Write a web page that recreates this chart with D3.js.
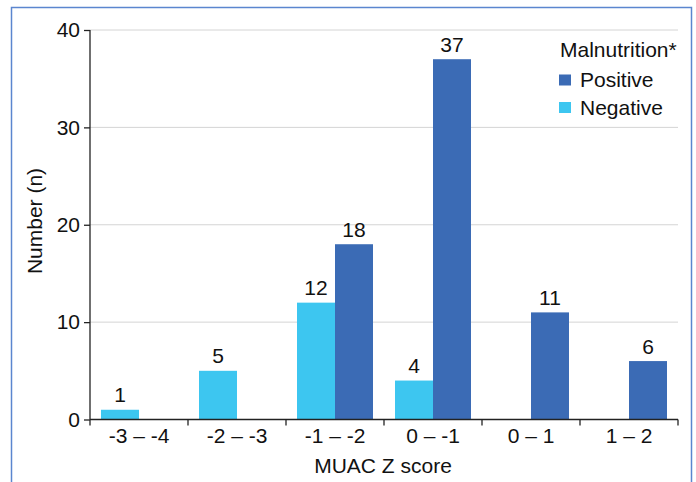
<!DOCTYPE html>
<html>
<head>
<meta charset="utf-8">
<script src="https://cdn.jsdelivr.net/npm/d3@7"></script>
<style>
  body { margin: 0; background: #fff; }
  text { font-family: "Liberation Sans", Arial, sans-serif; fill: #111; }
</style>
</head>
<body>
<div id="chart"></div>
<script>
var categories = ["-3 \u2013 -4", "-2 \u2013 -3", "-1 \u2013 -2", "0 \u2013 -1", "0 \u2013 1", "1 \u2013 2"];
var negative = [1, 5, 12, 4, null, null];
var positive = [null, null, 18, 37, 11, 6];
var yTicks = [0, 10, 20, 30, 40];
var seriesNames = ["Positive", "Negative"];
var colors = { Positive: "#3b6bb5", Negative: "#3dc6f0" };

var W = 696, H = 482;
var margin = { top: 30, right: 18, bottom: 62.5, left: 90 };
var width = 678 - margin.left;
var height = 419.5 - margin.top;
var fs = "21px";

var svg = d3.select("#chart").append("svg")
  .attr("width", W).attr("height", H);

// frame
svg.append("path")
  .attr("d", "M11.5," + H + " V7.5 H691.5 V" + H)
  .attr("fill", "none").attr("stroke", "#5b86cf").attr("stroke-width", 1.5);

var g = svg.append("g")
  .attr("transform", "translate(" + margin.left + "," + margin.top + ")");

var x = d3.scaleBand().domain(categories).range([0, width]).paddingInner(0).paddingOuter(0);
var y = d3.scaleLinear().domain([0, 40]).range([height, 0]);
var bw = 38, off = (x.bandwidth() - 2 * bw) / 2;

// grid
g.selectAll(".grid").data(yTicks.filter(function(d) { return d > 0; })).enter()
  .append("line")
  .attr("x1", 0).attr("x2", width)
  .attr("y1", function(d) { return y(d); }).attr("y2", function(d) { return y(d); })
  .attr("stroke", "#d4d4d4").attr("stroke-width", 1);

// bars
var rows = categories.map(function(c, i) {
  return { cat: c, Negative: negative[i], Positive: positive[i] };
});
[["Negative", 0], ["Positive", 1]].forEach(function(s) {
  var key = s[0], k = s[1];
  var data = rows.filter(function(d) { return d[key] != null; });
  g.selectAll(".bar-" + key).data(data).enter().append("rect")
    .attr("x", function(d) { return x(d.cat) + off + k * bw; })
    .attr("y", function(d) { return y(d[key]); })
    .attr("width", bw)
    .attr("height", function(d) { return height - y(d[key]); })
    .attr("fill", colors[key]);
  g.selectAll(".lab-" + key).data(data).enter().append("text")
    .attr("x", function(d) { return x(d.cat) + off + k * bw + bw / 2; })
    .attr("y", function(d) { return y(d[key]) - 7.5; })
    .attr("text-anchor", "middle")
    .style("font-size", fs)
    .text(function(d) { return d[key]; });
});

// y axis
var yAxis = g.append("g")
  .call(d3.axisLeft(y).tickValues(yTicks).tickSize(6).tickPadding(4));
yAxis.selectAll("text").style("font-size", fs).attr("fill", "#111");
yAxis.selectAll("line, path").attr("stroke", "#222").attr("stroke-width", 1.3);
yAxis.select(".domain").attr("d", "M0," + height + "V0");

// x axis
var xAxis = g.append("g").attr("transform", "translate(0," + height + ")")
  .call(d3.axisBottom(x).tickSize(0).tickPadding(9));
xAxis.selectAll("text").style("font-size", fs).attr("fill", "#111");
xAxis.select(".domain").attr("d", "M0,0H" + width).attr("stroke", "#222").attr("stroke-width", 1.3);
xAxis.selectAll(".edge").data(d3.range(categories.length + 1)).enter().append("line")
  .attr("x1", function(i) { return i * x.step(); })
  .attr("x2", function(i) { return i * x.step(); })
  .attr("y1", 0).attr("y2", 6)
  .attr("stroke", "#222").attr("stroke-width", 1.3);

// axis titles
svg.append("text")
  .attr("x", margin.left + width / 2 - 1).attr("y", 473)
  .attr("text-anchor", "middle").style("font-size", fs)
  .text("MUAC Z score");
svg.append("text")
  .attr("transform", "translate(42,221) rotate(-90)")
  .attr("text-anchor", "middle").style("font-size", fs)
  .text("Number (n)");

// legend
var leg = svg.append("g").attr("transform", "translate(559,0)");
leg.append("text").attr("x", 1).attr("y", 57).style("font-size", fs).text("Malnutrition*");
seriesNames.forEach(function(n, i) {
  leg.append("rect").attr("x", 0).attr("y", 74.5 + i * 27.5).attr("width", 12).attr("height", 11)
    .attr("fill", colors[n]);
  leg.append("text").attr("x", 21).attr("y", 87 + i * 28).style("font-size", fs).text(n);
});
</script>
</body>
</html>
